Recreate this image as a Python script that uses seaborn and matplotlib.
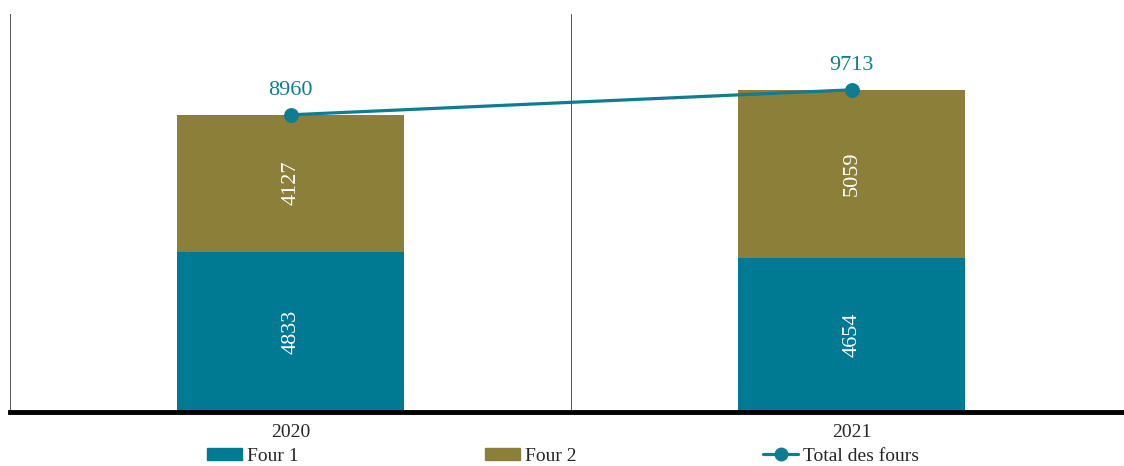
import pandas as pd
import seaborn as sns
import matplotlib.pyplot as plt
from matplotlib.patches import Patch
from matplotlib.lines import Line2D

#Data
years = ['2020', '2021']
four1 = [4833, 4654]
four2 = [4127, 5059]
total = [8960, 9713]

teal = '#007a93'
olive = '#8b7f3a'
line_teal = '#0f7c92'

df = pd.DataFrame({'Année': years, 'Four 1': four1, 'Four 2': four2, 'Total': total})

sns.set_style('white')
plt.rcParams['font.family'] = ['Liberation Serif', 'DejaVu Serif']

fig = plt.figure(figsize=(11.24, 4.66), dpi=100)
ax = fig.add_axes([0.009, 0.116, 0.991, 0.854])

#Stacked bars: total bar behind, Four 1 in front
sns.barplot(data=df, x='Année', y='Total', color=olive, width=0.405, saturation=1,
            linewidth=0, ax=ax)
sns.barplot(data=df, x='Année', y='Four 1', color=teal, width=0.405, saturation=1,
            linewidth=0, ax=ax)
sns.pointplot(data=df, x='Année', y='Total', color=line_teal, markersize=9,
              linewidth=2.3, ax=ax)

for i, yr in enumerate(years):
    ax.text(i, four1[i] / 2, str(four1[i]), rotation=90, ha='center', va='center',
            color='white', fontsize=16)
    ax.text(i, four1[i] + four2[i] / 2, str(four2[i]), rotation=90, ha='center', va='center',
            color='white', fontsize=16)
    ax.text(i, total[i] + 450, str(total[i]), ha='center', va='bottom',
            color=line_teal, fontsize=16)

ax.set_xlim(-0.5, 1.485)
ax.set_ylim(0, 12000)
ax.set_xlabel('')
ax.set_ylabel('')
ax.set_yticks([])
ax.tick_params(axis='x', length=0, pad=9, labelsize=14)
ax.axvline(0.5, color='#555555', lw=0.7)

for s in ['top', 'right']:
    ax.spines[s].set_visible(False)
ax.spines['left'].set_color('#555555')
ax.spines['left'].set_linewidth(0.7)
ax.spines['bottom'].set_color('black')
ax.spines['bottom'].set_linewidth(3.5)

handles = [Patch(color=teal), Patch(color=olive),
           Line2D([0], [0], color=line_teal, lw=2.3, marker='o', markersize=9)]
fig.legend(handles, ['Four 1', 'Four 2', 'Total des fours'], loc='center',
           bbox_to_anchor=(0.501, 0.021), ncol=3, frameon=False, fontsize=14,
           columnspacing=9.6, handlelength=1.8, handletextpad=0.25, handleheight=0.6,
           borderpad=0.05)

plt.savefig('out.png', dpi=100)
